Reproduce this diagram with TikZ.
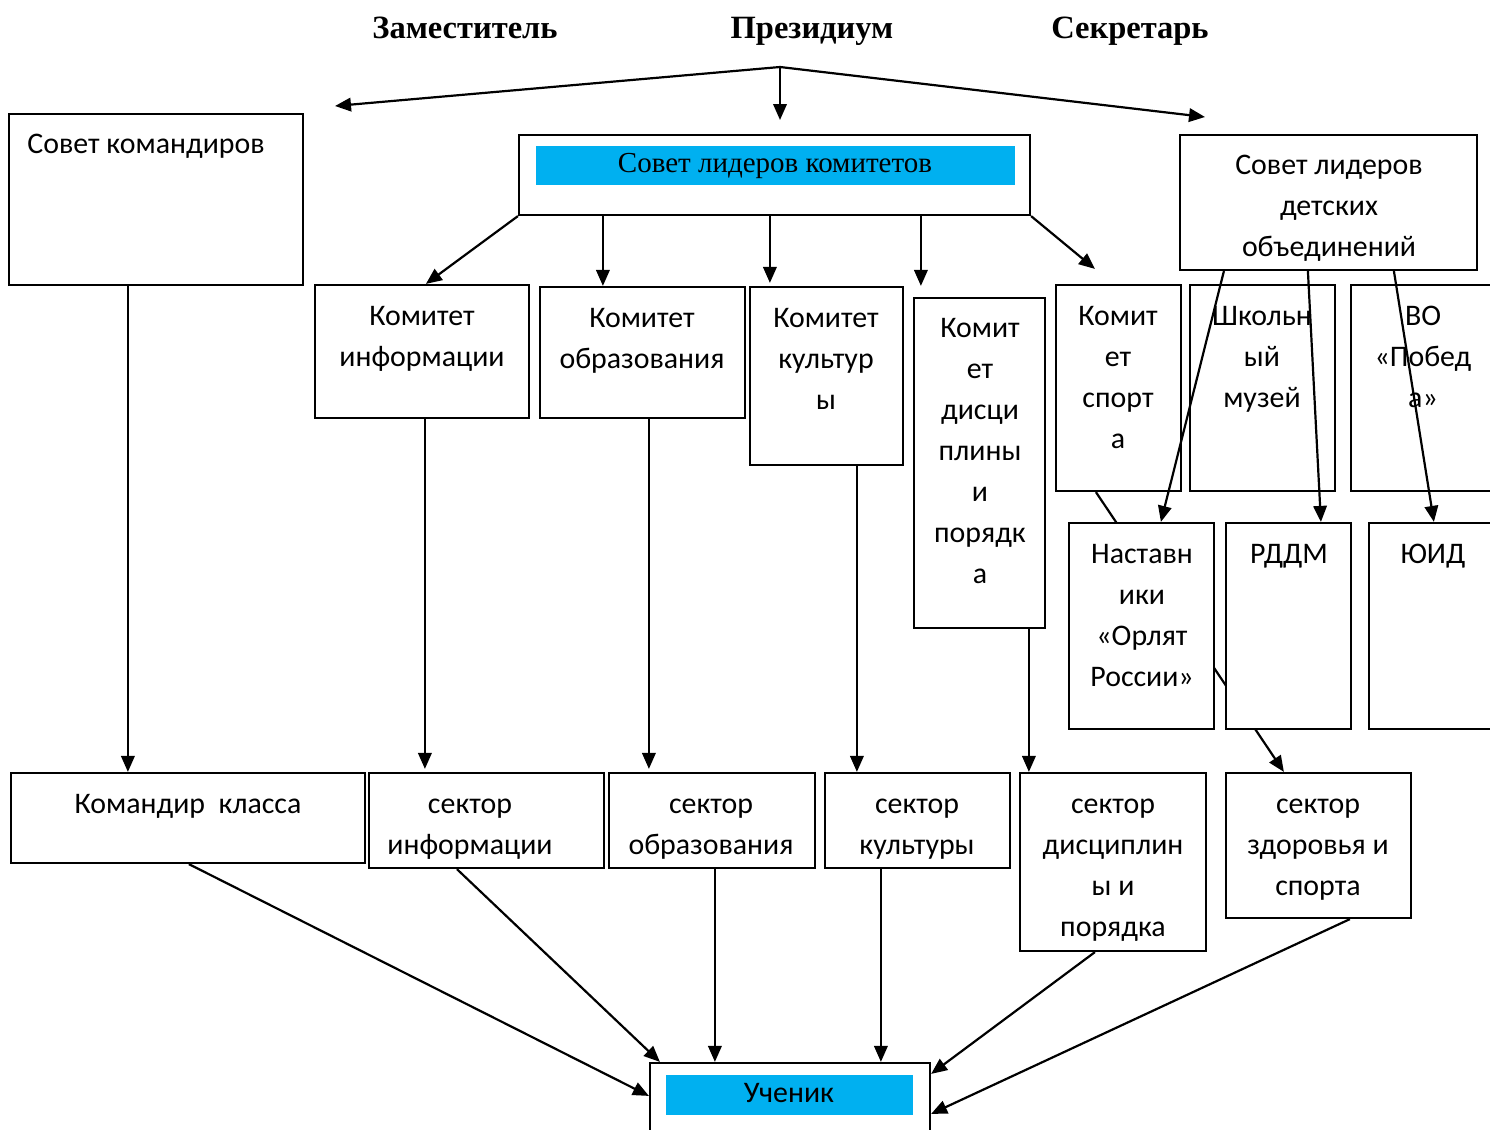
\documentclass[tikz,border=0pt]{standalone}
\usepackage{fontspec}
\setmainfont{Carlito}
\newfontfamily\serifhd{Liberation Serif}
\usetikzlibrary{arrows.meta,fit,calc}
\pgfdeclarelayer{background}
\pgfsetlayers{background,main}
\definecolor{cyanfill}{RGB}{0,176,240}
\tikzset{
  box/.style={draw=black, line width=1.25pt, fill=white, inner sep=0pt},
  band/.style={fill=cyanfill, draw=none, inner sep=0pt},
  txt/.style={font=\fontsize{17}{23.3}\selectfont, align=center, anchor=north, inner sep=0pt, execute at begin node=\strut},
  hd/.style={font=\serifhd\bfseries\fontsize{18.5}{22}\selectfont, anchor=base, inner sep=0pt},
  sertxt/.style={font=\serifhd\fontsize{16.5}{20}\selectfont, anchor=base, inner sep=0pt},
  arr/.style={line width=1.25pt, -{Triangle[length=0.32cm,width=0.27cm]}},
  ln/.style={line width=1.25pt},
}
\begin{document}
\begin{tikzpicture}[x=0.02cm,y=-0.02cm]
\useasboundingbox (0,0) rectangle (1490,1129);
\clip (0,0) rectangle (1490,1129);

% headers
\node[hd] (hz) at (465,38) {Заместитель};
\node[hd] (hp) at (812,38) {Президиум};
\node[hd] (hs) at (1130,38) {Секретарь};

% boxes
\node[box, fit={(9,114) (303,285)}] (sk) {};
\node[box, fit={(519,135) (1030,215)}] (slk) {};
\node[band, fit={(536,146) (1015,185)}] (slkb) {};
\node[box, fit={(1180,135) (1477,270)}] (sld) {};

\node[box, fit={(315,285) (529,418)}] (ki) {};
\node[box, fit={(540,287) (745,418)}] (ko) {};
\node[box, fit={(750,287) (903,465)}] (kk) {};
\node[box, fit={(914,298) (1045,628)}] (kd) {};
\node[box, fit={(1056,285) (1181,491)}] (ks) {};
\node[box, fit={(1190,285) (1335,491)}] (shm) {};
\node[box, fit={(1351,285) (1500,491)}] (vo) {};

\node[box, fit={(1069,523) (1214,729)}] (nas) {};
\node[box, fit={(1226,523) (1351,729)}] (rd) {};
\node[box, fit={(1369,523) (1500,729)}] (yu) {};

\node[box, fit={(11,773) (365,863)}] (kkl) {};
\node[box, fit={(369,773) (604,868)}] (si) {};
\node[box, fit={(609,773) (815,868)}] (so) {};
\node[box, fit={(825,773) (1010,868)}] (sc) {};
\node[box, fit={(1020,773) (1206,951)}] (sd) {};
\node[box, fit={(1226,773) (1411,918)}] (sz) {};

\node[box, fit={(650,1063) (930,1150)}] (uch) {};
\node[band, fit={(666,1075) (913,1115)}] (uchb) {};

% texts
\node[txt] (sk-t) at (146,124) {Совет командиров};
\node[sertxt] (slk-t) at (775,172) {Совет лидеров комитетов};
\node[txt] (sld-t) at (1329,155) {Совет лидеров\\детских\\объединений};
\node[txt] (ki-t) at (422,306) {Комитет\\информации};
\node[txt] (ko-t) at (642,308) {Комитет\\образования};
\node[txt] (kk-t) at (826,308) {Комитет\\культур\\ы};
\node[txt] (kd-t) at (980,318) {Комит\\ет\\дисци\\плины\\и\\порядк\\а};
\node[txt] (ks-t) at (1118,306) {Комит\\ет\\спорт\\а};
\node[txt] (shm-t) at (1262,306) {Школьн\\ый\\музей};
\node[txt] (vo-t) at (1423,306) {ВО\\«Побед\\а»};
\node[txt] (nas-t) at (1142,544) {Наставн\\ики\\«Орлят\\России»};
\node[txt] (rd-t) at (1289,534) {РДДМ};
\node[txt] (yu-t) at (1433,534) {ЮИД};
\node[txt] (kkl-t) at (188,784) {Командир\ \ класса};
\node[txt] (si-t) at (470,799) {сектор\\информации};
\node[txt] (so-t) at (711,799) {сектор\\образования};
\node[txt] (sc-t) at (917,799) {сектор\\культуры};
\node[txt] (sd-t) at (1113,799) {сектор\\дисциплин\\ы и\\порядка};
\node[txt] (sz-t) at (1318,799) {сектор\\здоровья и\\спорта};
\node[txt] (uch-t) at (789,1073) {Ученик};

% top fan
\coordinate (apex) at (780,67);
\coordinate (tz) at (335,106);
\coordinate (tp) at (780,120);
\coordinate (ts) at (1205,117);
\draw[arr] (apex) -- (tz);
\draw[arr] (apex) -- (tp);
\draw[arr] (apex) -- (ts);

% from Совет лидеров комитетов
\draw[arr] (slk.south west) -- ($(ki.north west)+(112,0)$);
\draw[arr] ($(slk.south west)+(85,0)$) -- ($(ko.north west)+(64,0)$);
\draw[arr] ($(slk.south west)+(252,0)$) -- ($(kk.north west)+(21,-3)$);
\draw[arr] ($(slk.south west)+(403,0)$) -- ($(kd.north west)+(8,-11)$);
\draw[arr] (slk.south east) -- ($(ks.north west)+(40,-15)$);

% verticals down
\draw[arr] ($(sk.south west)+(120,0)$) -- ($(kkl.north west)+(118,0)$);
\draw[arr] ($(ki.south west)+(111,0)$) -- ($(si.north west)+(57,-3)$);
\draw[arr] ($(ko.south west)+(110,0)$) -- ($(so.north west)+(41,-3)$);
\draw[arr] ($(kk.south west)+(108,0)$) -- ($(sc.north west)+(33,0)$);
\draw[arr] ($(kd.south west)+(116,0)$) -- ($(sd.north west)+(10,0)$);

% sport line behind boxes
\begin{pgfonlayer}{background}
\draw[arr] ($(ks.south west)+(41,0)$) -- ($(sz.north west)+(59,0)$);
\end{pgfonlayer}

% from Совет лидеров детских объединений
\draw[arr] ($(sld.south west)+(45,0)$) -- ($(nas.north west)+(93,0)$);
\draw[arr] ($(sld.south west)+(129,0)$) -- ($(rd.north west)+(96,0)$);
\draw[arr] ($(sld.south west)+(215,0)$) -- ($(yu.north west)+(66,0)$);

% to Ученик
\draw[arr] ($(kkl.south west)+(179,0)$) -- ($(uch.north west)+(0,34)$);
\draw[arr] ($(si.south west)+(89,0)$) -- ($(uch.north west)+(11,0)$);
\draw[arr] ($(so.south west)+(107,0)$) -- ($(uch.north west)+(66,0)$);
\draw[arr] ($(sc.south west)+(57,0)$) -- ($(uch.north west)+(232,0)$);
\draw[arr] ($(sd.south west)+(76,0)$) -- ($(uch.north east)+(0,12)$);
\draw[arr] ($(sz.south west)+(125,0)$) -- ($(uch.north east)+(0,52)$);
\end{tikzpicture}
\end{document}
